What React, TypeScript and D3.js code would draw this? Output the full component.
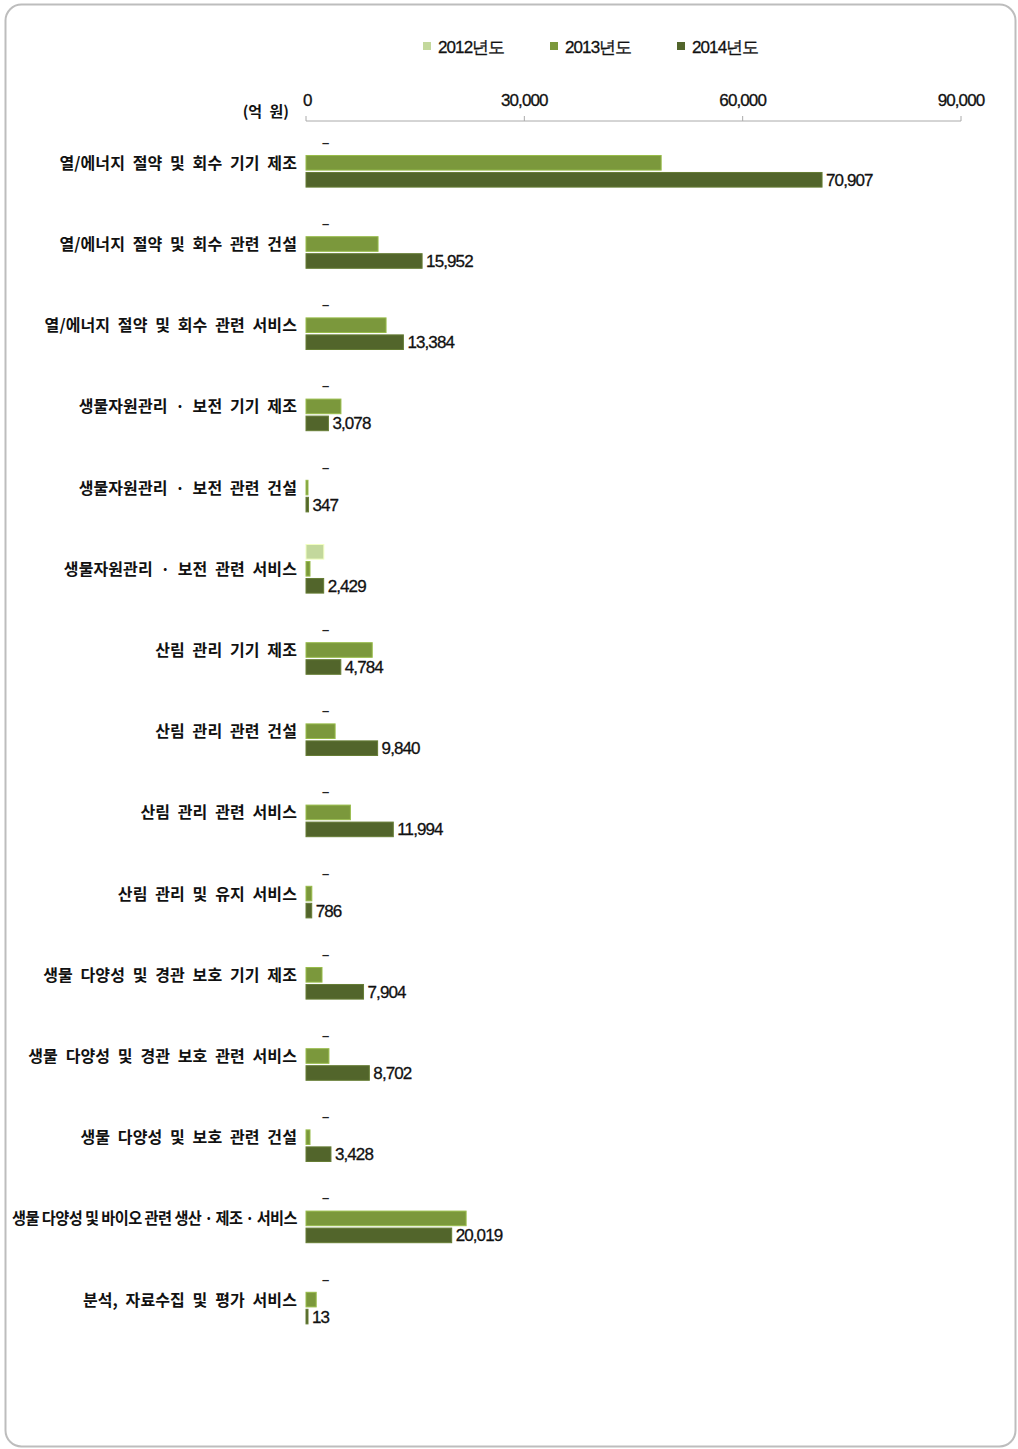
import React, { useEffect, useRef } from "react";
import * as d3 from "d3";

const categories = [
  "열/에너지 절약 및 회수 기기 제조",
  "열/에너지 절약 및 회수 관련 건설",
  "열/에너지 절약 및 회수 관련 서비스",
  "생물자원관리 · 보전 기기 제조",
  "생물자원관리 · 보전 관련 건설",
  "생물자원관리 · 보전 관련 서비스",
  "산림 관리 기기 제조",
  "산림 관리 관련 건설",
  "산림 관리 관련 서비스",
  "산림 관리 및 유지 서비스",
  "생물 다양성 및 경관 보호 기기 제조",
  "생물 다양성 및 경관 보호 관련 서비스",
  "생물 다양성 및 보호 관련 건설",
  "생물 다양성 및 바이오 관련 생산 · 제조 · 서비스",
  "분석, 자료수집 및 평가 서비스",
];

const seriesNames = ["2012년도", "2013년도", "2014년도"];
const seriesColors = ["#c3d89c", "#7b983c", "#52652b"];

const values2012: (number | null)[] = [null, null, null, null, null, 2450, null, null, null, null, null, null, null, null, null];
const values2013: number[] = [48800, 9900, 11000, 4800, 150, 550, 9100, 4000, 6100, 800, 2200, 3150, 550, 22000, 1400];
const values2014: number[] = [70907, 15952, 13384, 3078, 347, 2429, 4784, 9840, 11994, 786, 7904, 8702, 3428, 20019, 13];

const ticks = [0, 30000, 60000, 90000];

export default function App() {
  const ref = useRef<SVGSVGElement>(null);

  useEffect(() => {
    const svg = d3.select(ref.current);
    svg.selectAll("*").remove();
    const font = "'Noto Sans CJK KR', 'Noto Sans', sans-serif";
    const numFont = "'Liberation Sans', Arial, sans-serif";

    svg
      .append("rect")
      .attr("x", 5.5)
      .attr("y", 4.5)
      .attr("width", 1010)
      .attr("height", 1442)
      .attr("rx", 16)
      .attr("fill", "#fff")
      .attr("stroke", "#bdbdbd")
      .attr("stroke-width", 2);

    const x = d3.scaleLinear().domain([0, 90000]).range([306, 961]);
    const y = d3
      .scaleBand<string>()
      .domain(categories)
      .range([138.5, 138.5 + 81.2 * categories.length])
      .paddingInner(0)
      .paddingOuter(0);
    const sub = d3
      .scaleBand<number>()
      .domain([0, 1, 2])
      .range([0, 48.6])
      .paddingInner(0.14);

    // legend
    const legendX = [423, 550, 677];
    seriesNames.forEach((name, i) => {
      svg
        .append("rect")
        .attr("x", legendX[i])
        .attr("y", 42)
        .attr("width", 8)
        .attr("height", 8)
        .attr("fill", seriesColors[i]);
      svg
        .append("text")
        .attr("x", legendX[i] + 15)
        .attr("y", 53)
        .attr("font-family", numFont)
        .attr("font-size", 17)
        .attr("letter-spacing", -0.9)
        .attr("fill", "#111")
        .attr("stroke", "#111")
        .attr("stroke-width", 0.3)
        .text(name);
    });

    // axis
    const axisY = 121;
    svg
      .append("line")
      .attr("x1", x(0))
      .attr("x2", x(90000))
      .attr("y1", axisY)
      .attr("y2", axisY)
      .attr("stroke", "#aaa")
      .attr("stroke-width", 1);
    ticks.forEach((t) => {
      svg
        .append("line")
        .attr("x1", x(t))
        .attr("x2", x(t))
        .attr("y1", axisY - 5)
        .attr("y2", axisY)
        .attr("stroke", "#aaa");
      svg
        .append("text")
        .attr("x", x(t))
        .attr("y", 106)
        .attr("text-anchor", t === 0 ? "start" : "middle")
        .attr("dx", t === 0 ? -3 : 0)
        .attr("font-family", numFont)
        .attr("font-size", 17)
        .attr("letter-spacing", -0.9)
        .attr("fill", "#111")
        .attr("stroke", "#111")
        .attr("stroke-width", 0.3)
        .text(d3.format(",")(t));
    });
    svg
      .append("text")
      .attr("x", 289)
      .attr("y", 117)
      .attr("text-anchor", "end")
      .attr("font-family", font)
      .attr("font-size", 15)
      .attr("font-weight", 700)
      .attr("word-spacing", 4)
      .attr("fill", "#111")
      .text("(억 원)");

    const allSeries = [values2012, values2013, values2014];

    categories.forEach((cat, ci) => {
      const gy = y(cat)!;
      // category label
      const lbl = svg
        .append("text")
        .attr("x", 297)
        .attr("y", gy + sub(1)! + sub.bandwidth() / 2 + 6)
        .attr("text-anchor", "end")
        .attr("font-family", font)
        .attr("font-size", 16)
        .attr("font-weight", 700)
        .attr("letter-spacing", 0.1)
        .attr("word-spacing", 4)
        .attr("fill", "#111")
        .text(cat);
      const node = lbl.node() as SVGTextElement;
      const w = node.getComputedTextLength();
      if (w > 285) {
        lbl
          .attr("word-spacing", 0)
          .attr("letter-spacing", -0.6)
          .attr("textLength", 285)
          .attr("lengthAdjust", "spacingAndGlyphs");
      }

      allSeries.forEach((vals, si) => {
        const v = vals[ci];
        const by = gy + sub(si)!;
        if (v === null || v === undefined) {
          svg
            .append("text")
            .attr("x", x(0) + 16)
            .attr("y", by + sub.bandwidth() / 2 + 1)
            .attr("font-family", numFont)
            .attr("font-size", 13)
            .attr("font-weight", 700)
            .attr("fill", "#222")
            .text("–");
          return;
        }
        const bw = Math.max(x(v) - x(0), 2);
        svg
          .append("rect")
          .attr("x", x(0))
          .attr("y", by)
          .attr("width", bw)
          .attr("height", sub.bandwidth())
          .attr("fill", seriesColors[si])
          .attr("stroke", d3.color(seriesColors[si])!.brighter(0.6).formatHex())
          .attr("stroke-width", 1);
        if (si === 2) {
          svg
            .append("text")
            .attr("x", x(0) + bw + 4)
            .attr("y", by + sub.bandwidth() / 2 + 6)
            .attr("font-family", numFont)
            .attr("font-size", 17)
            .attr("letter-spacing", -0.9)
            .attr("fill", "#111")
            .attr("stroke", "#111")
            .attr("stroke-width", 0.3)
            .text(d3.format(",")(v));
        }
      });
    });
  }, []);

  return (
    <svg
      ref={ref}
      width={1018}
      height={1449}
      style={{ position: "absolute", left: 0, top: 0, background: "#fff" }}
    />
  );
}
